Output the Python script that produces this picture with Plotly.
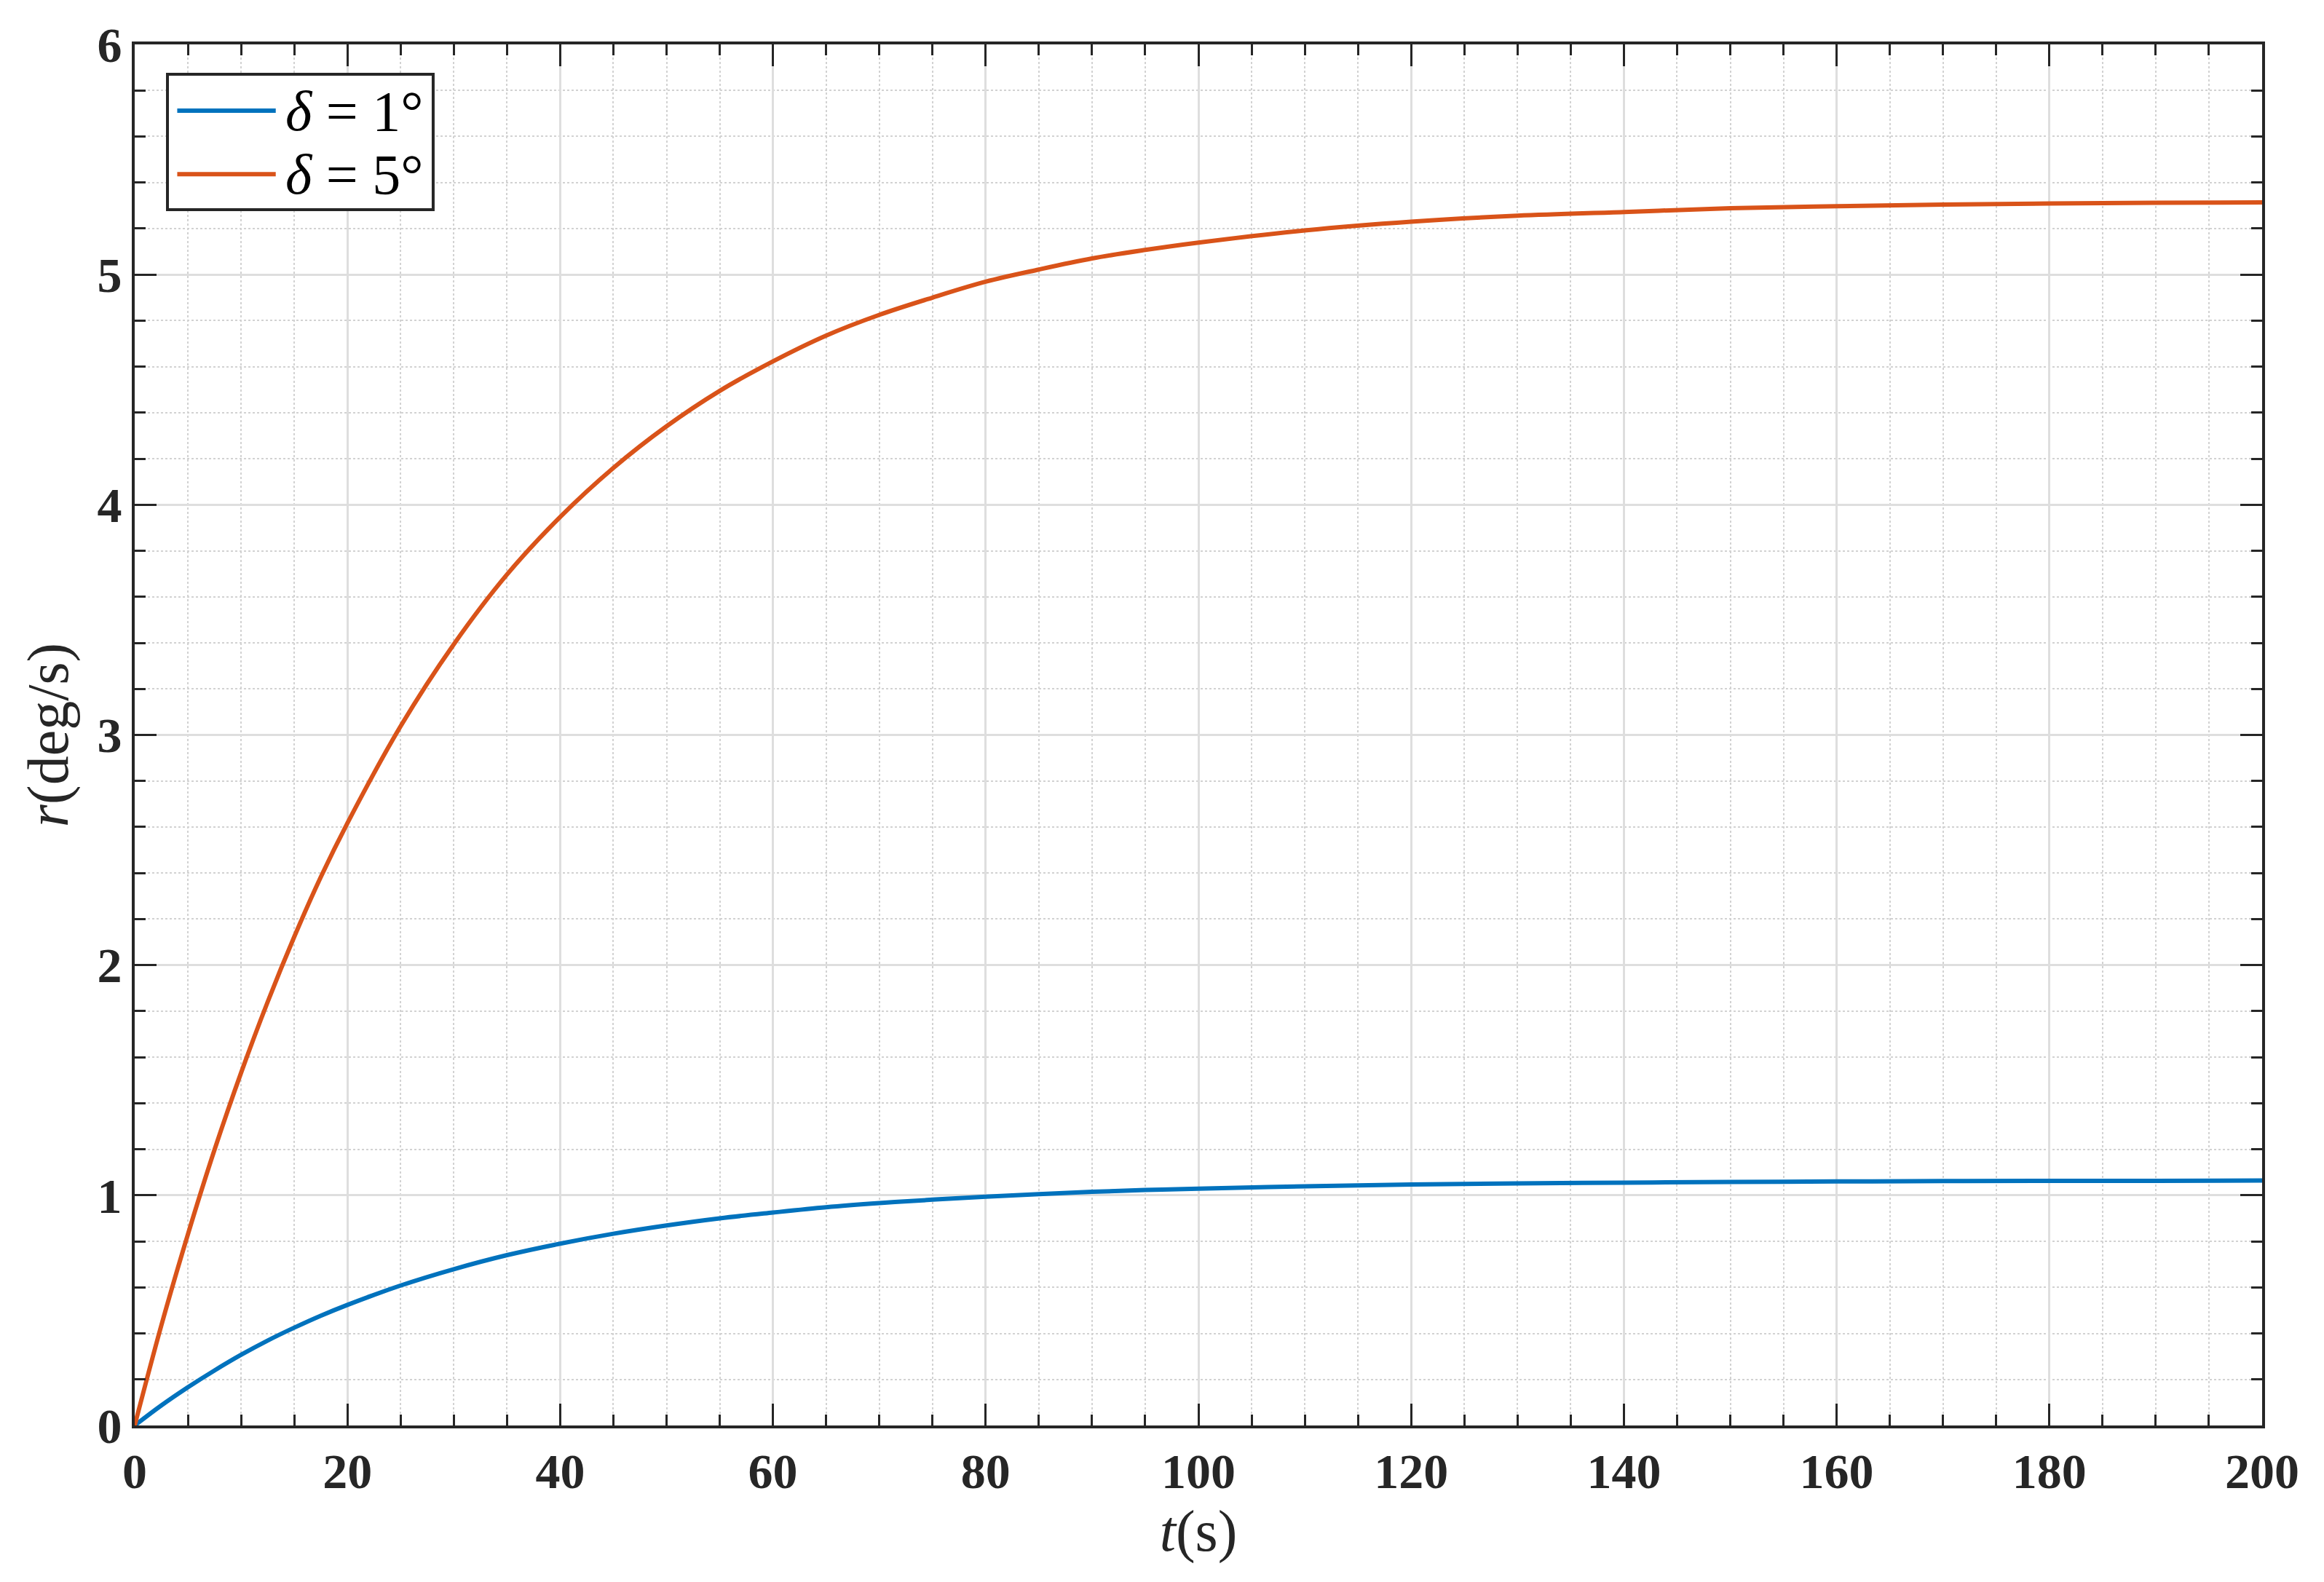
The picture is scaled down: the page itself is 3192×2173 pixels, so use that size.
import plotly.graph_objects as go

# time samples (s)
t = [0, 2.5, 5, 7.5, 10, 12.5, 15, 17.5, 20, 25, 30, 35, 40, 45, 50, 55, 60, 65, 70, 75, 80, 85, 90, 95,
     100, 110, 120, 130, 140, 150, 160, 170, 180, 190, 200]
# yaw rate r (deg/s) for delta = 1 deg
r_d1 = [0.0, 0.087, 0.166, 0.239, 0.307, 0.369, 0.425, 0.477, 0.524, 0.608, 0.679, 0.740,
        0.790, 0.833, 0.869, 0.900, 0.925, 0.948, 0.966, 0.981, 0.994, 1.005, 1.015, 1.023,
        1.029, 1.039, 1.047, 1.052, 1.055, 1.058, 1.060, 1.062, 1.063, 1.063, 1.064]
# yaw rate r (deg/s) for delta = 5 deg
r_d5 = [0.0, 0.434, 0.830, 1.197, 1.532, 1.840, 2.123, 2.383, 2.617, 3.038, 3.394, 3.697,
        3.947, 4.160, 4.341, 4.495, 4.623, 4.735, 4.825, 4.900, 4.969, 5.022, 5.070, 5.107,
        5.139, 5.192, 5.230, 5.256, 5.272, 5.288, 5.297, 5.304, 5.309, 5.312, 5.314]

series_names = ["<i>δ</i>&nbsp;=&nbsp;1°", "<i>δ</i>&nbsp;=&nbsp;5°"]
series_colors = ["#0072BD", "#D95319"]
x_ticks = [0, 20, 40, 60, 80, 100, 120, 140, 160, 180, 200]
y_ticks = [0, 1, 2, 3, 4, 5, 6]

AX = "#262626"
SERIF = "Liberation Serif, Times New Roman, serif"

fig = go.Figure()
for ys, name, col in zip([r_d1, r_d5], series_names, series_colors):
    fig.add_trace(go.Scatter(x=t, y=ys, mode="lines", name=name,
                             line=dict(color=col, width=6, shape="spline", smoothing=1.0),
                             showlegend=False))

axis_common = dict(
    showline=True, linecolor=AX, linewidth=4, mirror="ticks",
    ticks="inside", ticklen=30, tickwidth=3, tickcolor=AX,
    showgrid=True, gridcolor="#dedede", gridwidth=3,
    zeroline=False,
    tickfont=dict(family=SERIF, size=68, color=AX, weight="bold"),
)

fig.update_xaxes(**axis_common, range=[0, 200], tickvals=x_ticks,
                 minor=dict(dtick=5, tick0=0, ticks="inside", ticklen=15, tickwidth=3,
                            tickcolor=AX, showgrid=True, gridcolor="#d2d2d2",
                            gridwidth=2, griddash="dot"),
                 title=dict(text="<i>t</i>(s)", font=dict(family=SERIF, size=80, color=AX),
                            standoff=14))
fig.update_yaxes(**axis_common, range=[0, 6], tickvals=y_ticks,
                 minor=dict(dtick=0.2, tick0=0, ticks="inside", ticklen=15, tickwidth=3,
                            tickcolor=AX, showgrid=True, gridcolor="#d2d2d2",
                            gridwidth=2, griddash="dot"),
                 title=dict(text="<i>r</i>(deg/s)", font=dict(family=SERIF, size=80, color=AX),
                            standoff=14))

# manual legend (box, sample lines, labels)
fig.add_shape(type="rect", xref="paper", yref="paper", x0=0.0154, x1=0.1403,
              y0=0.8803, y1=0.9784, line=dict(color=AX, width=4), fillcolor="white",
              layer="above")
for yl, name, col in zip([0.952, 0.906], series_names, series_colors):
    fig.add_shape(type="line", xref="paper", yref="paper", x0=0.0200, x1=0.0663,
                  y0=yl, y1=yl, line=dict(color=col, width=6), layer="above")
    fig.add_annotation(xref="paper", yref="paper", x=0.0702, y=yl, xanchor="left",
                       yanchor="middle", text=name, showarrow=False,
                       font=dict(family=SERIF, size=78, color="black"))

fig.update_layout(
    width=3192, height=2173,
    margin=dict(l=177, r=93, t=53, b=223),
    paper_bgcolor="white", plot_bgcolor="white",
    showlegend=False,
)

fig.write_html("out.html")
